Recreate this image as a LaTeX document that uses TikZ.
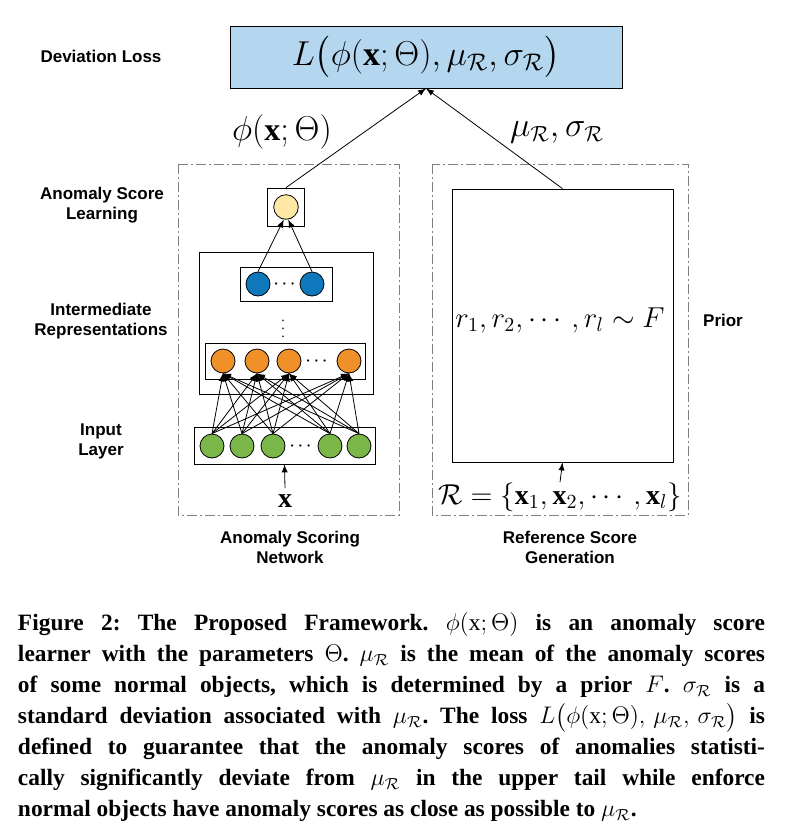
\documentclass[tikz,border=0pt]{standalone}
\usepackage{fontspec}
\setmainfont{Liberation Serif}
\setsansfont{Liberation Sans}
\usepackage{amsmath}
\definecolor{lossblue}{RGB}{180,214,238}
\definecolor{scoreyellow}{RGB}{255,232,166}
\definecolor{hidblue}{RGB}{15,120,189}
\definecolor{hidorange}{RGB}{240,144,40}
\definecolor{ingreen}{RGB}{122,182,72}
\begin{document}
\begin{tikzpicture}[x=0.5pt,y=-0.5pt]
\tikzstyle{every node}=[inner sep=0pt]
\tikzstyle{neuron}=[circle,draw,thin,minimum size=12pt]
\tikzstyle{layer}=[draw,thin]
\tikzstyle{frame}=[draw=gray,thin,dash pattern=on 5pt off 1.5pt on 1pt off 1.5pt]
\tikzstyle{sidetext}=[font=\sffamily\bfseries\fontsize{8.5}{10}\selectfont,align=center]
\tikzstyle{conn}=[-latex,thin]
\tikzstyle{dots}=[font=\fontsize{7}{8}\selectfont]
\useasboundingbox (0,0) rectangle (785,836);
% loss
\node[layer,fill=lossblue,minimum width=196pt,minimum height=31pt,font=\fontsize{17}{19}\selectfont] (loss) at (426,57)
  {$L\bigl(\phi(\mathbf{x};\Theta),\mu_{\mathcal{R}},\sigma_{\mathcal{R}}\bigr)$};
\node[sidetext] (losstxt) at (101,56) {Deviation Loss};
% frames
\draw[frame] (178,164) rectangle (399,515);
\draw[frame] (432,164) rectangle (688,515);
% anomaly scoring network
\node[layer,minimum width=18.5pt,minimum height=19pt] (ybox) at (286,207) {};
\node[neuron,fill=scoreyellow,minimum size=12.3pt] (yc) at (286,207) {};
\draw[layer] (199,252) rectangle (373,394);
\draw[layer] (240,267) rectangle (332,301);
\node[neuron,fill=hidblue] (b1) at (258,284) {};
\node[neuron,fill=hidblue] (b2) at (312,284) {};
\node[dots] (bdots) at (286,284) {$\boldsymbol{\cdots}$};
\node[dots] (vdots) at (283,323) {$\boldsymbol{\vdots}$};
\draw[layer] (205,343) rectangle (365,379);
\foreach \i/\x in {1/223,2/257,3/289,4/349}
  \node[neuron,fill=hidorange] (o\i) at (\x,361) {};
\node[dots] (odots) at (318,361) {$\boldsymbol{\cdots}$};
\node[layer,minimum width=90.5pt,minimum height=18.5pt] (gbox) at (284.5,445.5) {};
\foreach \i/\x in {1/212,2/242,3/273,4/330,5/359}
  \node[neuron,fill=ingreen] (g\i) at (\x,446) {};
\node[dots] (gdots) at (302,446) {$\boldsymbol{\cdots}$};
\foreach \i in {1,...,5}
  \foreach \j in {1,...,4}
    \draw[conn] (g\i.north) -- (o\j.south);
\draw[conn] (b1.north) -- (yc.-100);
\draw[conn] (b2.north) -- (yc.-80);
\node[font=\fontsize{14}{16}\selectfont] (xin) at (285,501) {$\mathbf{x}$};
\draw[conn] (xin.north) ++(0,-6) -- (gbox.south);
% reference scores
\node[layer,minimum width=110.5pt,minimum height=136.5pt] (refbox) at (562.5,325.5) {};
\node[font=\fontsize{14}{16}\selectfont] (rtext) at (560,320) {$r_1,r_2,\cdots,r_l\sim F$};
\node[font=\fontsize{14}{16}\selectfont] (rset) at (560,497) {$\mathcal{R}=\{\mathbf{x}_1,\mathbf{x}_2,\cdots,\mathbf{x}_l\}$};
\draw[conn] (rset.north) -- (refbox.south);
% to the loss
\draw[conn] (ybox.north) -- (loss.south);
\draw[conn] (refbox.north) -- (loss.south);
\node[font=\fontsize{16}{18}\selectfont] (philbl) at (282,132) {$\phi(\mathbf{x};\Theta)$};
\node[font=\fontsize{16}{18}\selectfont] (mulbl) at (557,132) {$\mu_{\mathcal{R}},\sigma_{\mathcal{R}}$};
% side labels
\node[sidetext] (asl) at (102,205) {Anomaly Score\\Learning};
\node[sidetext] (irp) at (101,321) {Intermediate\\Representations};
\node[sidetext] (inl) at (101,441) {Input\\Layer};
\node[sidetext] (pri) at (723,320) {Prior};
\node[sidetext] (asn) at (290,547) {Anomaly Scoring\\Network};
\node[sidetext] (rsg) at (570,547) {Reference Score\\Generation};
% caption
\node[text width=373.5pt,align=justify,font=\bfseries\fontsize{11.7}{15.5}\selectfont] (cap) at (391.5,717) {\frenchspacing\emergencystretch=2em
Figure 2: The Proposed Framework. $\phi(\mathrm{x};\Theta)$ is an anomaly score\linebreak
learner with the parameters $\Theta$. $\mu_{\mathcal{R}}$ is the mean of the anomaly scores\linebreak
of some normal objects, which is determined by a prior $F$. $\sigma_{\mathcal{R}}$ is a\linebreak
standard deviation associated with $\mu_{\mathcal{R}}$. The loss $L\big(\phi(\mathrm{x};\Theta),\,\mu_{\mathcal{R}},\,\sigma_{\mathcal{R}}\big)$ is\linebreak
defined to guarantee that the anomaly scores of anomalies statisti-\linebreak
cally significantly deviate from $\mu_{\mathcal{R}}$ in the upper tail while enforce\linebreak
normal objects have anomaly scores as close as possible to $\mu_{\mathcal{R}}$.};
\end{tikzpicture}
\end{document}
